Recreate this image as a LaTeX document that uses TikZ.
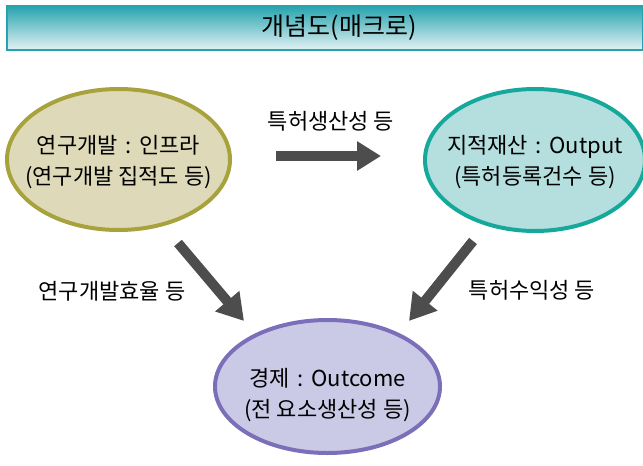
\documentclass[tikz,border=0pt]{standalone}
\usepackage{fontspec}
\setmainfont{Noto Sans CJK KR}
\usetikzlibrary{shapes.geometric,arrows.meta}
\definecolor{olivefill}{HTML}{DEDAB9}
\definecolor{olivedraw}{HTML}{A8A23D}
\definecolor{tealfill}{HTML}{B4DFDE}
\definecolor{tealdraw}{HTML}{16A89B}
\definecolor{lavfill}{HTML}{CBCAE6}
\definecolor{lavdraw}{HTML}{7A6FB8}
\definecolor{titletop}{HTML}{26A3AE}
\definecolor{titlebot}{HTML}{E4F2F4}
\definecolor{arrowgray}{HTML}{4D4D4D}
\newcommand{\colsep}{\hspace{0.35em}:\hspace{0.35em}}
\newcommand{\lift}[1]{\rule{0pt}{#1}}
\tikzset{
  bubble/.style={ellipse, line width=4pt, inner xsep=-16pt, inner ysep=0pt, align=center, font=\fontsize{22}{31}\selectfont},
  bigarrow/.style={draw=arrowgray, line width=10pt, -{Triangle[length=26pt,width=30pt]}},
  lbl/.style={font=\fontsize{22}{26}\selectfont, inner sep=0pt},
}
\begin{document}
\begin{tikzpicture}[x=1pt,y=-1pt]
\useasboundingbox (0,0) rectangle (643,466);
\shade[top color=titletop, bottom color=titlebot] (7,6) rectangle (643,50);
\draw[titletop, line width=1.5pt] (7,6) rectangle (643,50);
\node[font=\fontsize{25}{28}\selectfont] (title) at (339,28) {개념도(매크로)};
\node[bubble, fill=olivefill, draw=olivedraw, minimum width=223pt, minimum height=141pt] (rd) at (118.5,159.5) {\lift{23pt}연구개발\colsep 인프라\\(연구개발 집적도 등)};
\node[bubble, fill=tealfill, draw=tealdraw, minimum width=220pt, minimum height=142pt] (ip) at (535,160) {\lift{23pt}지적재산\colsep Output\\(특허등록건수 등)};
\node[bubble, fill=lavfill, draw=lavdraw, minimum width=225pt, minimum height=133pt] (ec) at (327.5,386.5) {\lift{35pt}경제\colsep Outcome\\(전 요소생산성 등)};
\coordinate (h1) at (276,156);
\coordinate (h2) at (381,156);
\coordinate (l1) at (178,243);
\coordinate (l2) at (244,321);
\coordinate (r1) at (473,241);
\coordinate (r2) at (409,321);
\draw[bigarrow, -{Triangle[length=24pt,width=28pt]}] (h1) -- (h2);
\draw[bigarrow] (l1) -- (l2);
\draw[bigarrow] (r1) -- (r2);
\node[lbl] (t1) at (331,121) {특허생산성 등};
\node[lbl] (t2) at (112,291) {연구개발효율 등};
\node[lbl] (t3) at (532,290) {특허수익성 등};
\end{tikzpicture}
\end{document}
